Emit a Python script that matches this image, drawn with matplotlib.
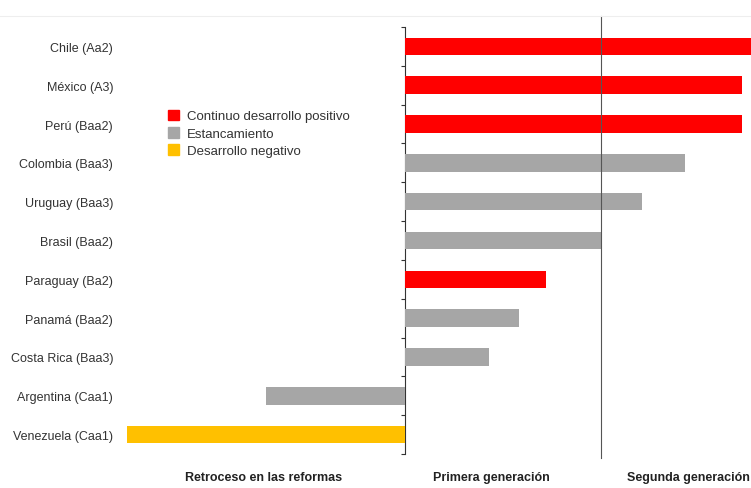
import matplotlib.pyplot as plt
from matplotlib.patches import Patch

plt.rcParams['font.family'] = ['Liberation Sans', 'DejaVu Sans']

# reform stage per country: 0 = start, 1 = end of first generation
countries = ['Chile (Aa2)', 'México (A3)', 'Perú (Baa2)', 'Colombia (Baa3)',
             'Uruguay (Baa3)', 'Brasil (Baa2)', 'Paraguay (Ba2)', 'Panamá (Baa2)',
             'Costa Rica (Baa3)', 'Argentina (Caa1)', 'Venezuela (Caa1)']
values = [1.80, 1.72, 1.72, 1.43, 1.21, 1.00, 0.72, 0.58, 0.43, -0.71, -1.42]
trend = ['pos', 'pos', 'pos', 'stag', 'stag', 'stag', 'pos', 'stag', 'stag', 'stag', 'neg']

trend_colors = {'pos': '#FF0000', 'stag': '#A6A6A6', 'neg': '#FFC000'}
trend_labels = {'pos': 'Continuo desarrollo positivo',
                'stag': 'Estancamiento',
                'neg': 'Desarrollo negativo'}

stages = ['Retroceso en las reformas', 'Primera generación', 'Segunda generación']
stage_x = [-0.72, 0.44, 1.445]

XMIN, XMAX = -1.418, 1.765

fig = plt.figure(figsize=(7.51, 4.89), dpi=100)
ax = fig.add_axes([127 / 751, 1 - 455 / 489, 1 - 127 / 751, (455 - 28) / 489])

ypos = list(range(len(countries)))
ax.barh(ypos, values, height=0.45, color=[trend_colors[t] for t in trend], zorder=2)
ax.set_xlim(XMIN, XMAX)
ax.set_ylim(len(countries) - 0.5, -0.5)

ax.set_yticks(ypos)
ax.set_yticklabels(countries, fontsize=9, color='#333333')
ax.tick_params(axis='y', length=0, pad=10)
ax.set_xticks([])
for s in ax.spines.values():
    s.set_visible(False)

# zero line with small ticks between countries
zero_frac = (0 - XMIN) / (XMAX - XMIN)
sec = ax.secondary_yaxis(zero_frac)
sec.set_yticks([i - 0.5 for i in range(len(countries) + 1)])
sec.set_yticklabels([])
sec.tick_params(axis='y', length=3, width=0.8, color='#333333')
sec.spines['left'].set_color('#333333')
sec.spines['left'].set_linewidth(0.8)

# boundary between first and second generation
ax.axvline(1.0, ymin=-0.01, ymax=1.025, color='#555555', lw=0.8, clip_on=False, zorder=3)

# faint top rule
fig.add_artist(plt.Line2D([0, 1], [1 - 17 / 489] * 2, color='#EEEEEE', lw=0.8))

for label, x in zip(stages, stage_x):
    ax.text(x, -0.054, label, transform=ax.get_xaxis_transform(), ha='center',
            va='center', fontsize=9, color='#222222', fontweight='bold')

handles = [Patch(color=trend_colors[k], label=trend_labels[k]) for k in ['pos', 'stag', 'neg']]
fig.legend(handles=handles, loc='upper left', bbox_to_anchor=(161 / 751, 1 - 104 / 489),
           frameon=False, fontsize=9.5, handlelength=0.85, handleheight=0.85,
           handletextpad=0.6, labelspacing=0.35, borderpad=0, labelcolor='#333333')

fig.savefig('out.png', dpi=100)
